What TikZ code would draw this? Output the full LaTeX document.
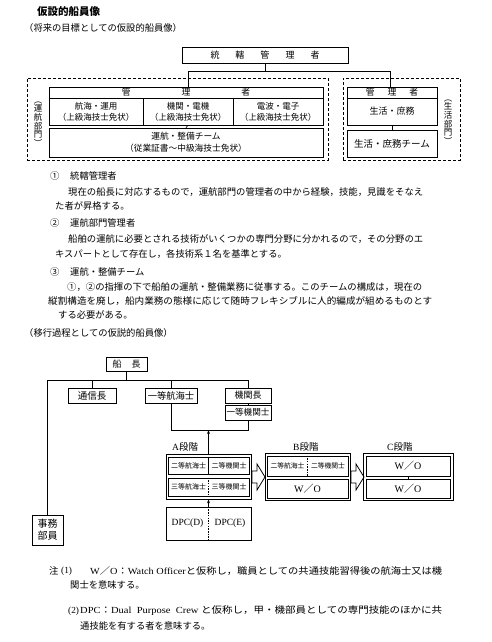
\documentclass[tikz,border=0pt]{standalone}
\usepackage{fontspec}
\usepackage{graphicx}
\setmainfont{Noto Sans CJK JP}
\newfontfamily\LSf{Liberation Serif}
\newcommand\LS[1]{{\LSf #1}}
\newcommand\fs[2]{\fontsize{#1}{#2}\selectfont}
\newcommand\gp[1]{\hspace{#1pt}}
\newcommand\fitw[2]{\resizebox{#1pt}{\height}{#2}}
\usetikzlibrary{arrows.meta}
\begin{document}
\begin{tikzpicture}[x=1pt,y=-1pt,
  bx/.style={draw, line width=0.6pt, inner sep=0pt},
  tbx/.style={draw, line width=0.9pt, inner sep=0pt},
  tx/.style={inner sep=0pt, anchor=west},
  ct/.style={inner sep=0pt},
  dbox/.style={draw, dash pattern=on 3pt off 2pt, line width=0.7pt, inner sep=0pt},
  ln/.style={line width=0.7pt},
  dv/.style={line width=0.6pt, dash pattern=on 1.5pt off 1.2pt},
  vl/.style={inner sep=0pt, align=center, font=\fs{8.5}{8.6}},
  hol/.style={draw, line width=0.8pt, fill=white, line join=miter},
  arr/.style={line width=0.7pt, -{Stealth[length=4pt,width=3pt]}}]
\useasboundingbox (0,0) rectangle (491,642);
\fill[white] (0,0) rectangle (491,642);

% ---------- titles ----------
\node[tx, font=\fs{10.5}{11}\bfseries] (title) at (37,12) {仮設的船員像};
\node[tx, font=\fs{9.3}{10}] (sub1) at (24,28) {（将来の目標としての仮設的船員像）};

% ---------- upper chart ----------
\node[bx, minimum width=166, minimum height=16, font=\fs{9}{10}] (top) at (265,55.5) {統\gp{16}轄\gp{16}管\gp{16}理\gp{16}者};

\node[dbox, minimum width=301, minimum height=82] (unL) at (177.5,119) {};
\node[dbox, minimum width=117, minimum height=82] (unR) at (401.5,119) {};

\node[tbx, minimum width=274, minimum height=11, font=\fs{8.8}{9}] (mgrL) at (186,92.5) {管\gp{51}理\gp{51}者};
\node[tbx, minimum width=94, minimum height=27, align=center, font=\fs{8.5}{11}] (nav) at (96,111.5) {航海・運用\\（上級海技士免状）};
\node[tbx, minimum width=90, minimum height=27, align=center, font=\fs{8.5}{11}] (eng) at (188,111.5) {機関・電機\\（上級海技士免状）};
\node[tbx, minimum width=90, minimum height=27, align=center, font=\fs{8.5}{11}] (rad) at (278,111.5) {電波・電子\\（上級海技士免状）};
\node[tbx, minimum width=274, minimum height=29, align=center, font=\fs{8.7}{11.5}] (team) at (186,142.5) {運航・整備チーム\\（従業証書～中級海技士免状）};
\node[vl] (labL) at (38,124) {︵\\運\\航\\部\\門\\︶};

\node[tbx, minimum width=90, minimum height=11, font=\fs{8.8}{9}] (mgrR) at (392,92.5) {管\gp{13}理\gp{13}者};
\node[tbx, minimum width=90, minimum height=27, font=\fs{9}{10}] (life) at (392,111.5) {生活・庶務};
\node[tbx, minimum width=90, minimum height=27, font=\fs{9.5}{10}] (lteam) at (392,143.5) {生活・庶務チーム};
\node[vl] (labR) at (448,122) {︵\\生\\活\\部\\門\\︶};

\coordinate (jL) at (188,71);
\coordinate (jR) at (390,71);
\draw[ln] (top.south) -- (top.south |- jL);
\draw[ln] (jL) -- (jR);
\draw[ln] (jL) -- (jL |- mgrL.north);
\draw[ln] (jR) -- (jR |- mgrR.north);
\draw[ln] (eng.south) -- (team.north);
\draw[ln] (life.south) -- (lteam.north);

% ---------- explanatory text ----------
\begin{scope}[every node/.style={tx, font=\fs{9.3}{10}}]
\node (n1) at (50,176) {①};
\node (h1) at (70,176) {統轄管理者};
\node (t1a) at (68,192) {\fitw{355}{現在の船長に対応するもので，運航部門の管理者の中から経験，技能，見識をそなえ}};
\node (t1b) at (55,206) {た者が昇格する。};
\node (n2) at (50,223) {②};
\node (h2) at (70,223) {運航部門管理者};
\node (t2a) at (68,239) {\fitw{355}{船舶の運航に必要とされる技術がいくつかの専門分野に分かれるので，その分野のエ}};
\node (t2b) at (55,254) {キスパートとして存在し，各技術系１名を基準とする。};
\node (n3) at (50,272) {③};
\node (h3) at (70,272) {運航・整備チーム};
\node (t3a) at (67,287) {\fitw{355}{①，②の指揮の下で船舶の運航・整備業務に従事する。このチームの構成は，現在の}};
\node (t3b) at (48,301) {\fitw{384}{縦割構造を廃し，船内業務の態様に応じて随時フレキシブルに人的編成が組めるものとす}};
\node (t3c) at (58,315) {する必要がある。};
\node (sub2) at (24,333) {（移行過程としての仮説的船員像）};
\end{scope}

% ---------- lower chart ----------
\node[bx, minimum width=41, minimum height=14, font=\fs{9}{10}] (cap) at (126.5,364) {船\gp{10}長};
\coordinate (hL) at (47,380);
\coordinate (hR) at (248,380);
\draw[ln] (cap.south) -- (cap.south |- hL);
\draw[ln] (hL) -- (hR);

\node[bx, minimum width=48, minimum height=15, font=\fs{9.5}{10}] (tsu) at (92,395.5) {通信長};
\node[bx, minimum width=52, minimum height=15, font=\fs{9.3}{10}] (itk) at (171,395.5) {一等航海士};
\node[bx, minimum width=46, minimum height=15, font=\fs{9}{10}] (kc) at (248,395.5) {機関長};
\node[bx, minimum width=46, minimum height=15, font=\fs{8.6}{10}] (ikk) at (248,412.5) {一等機関士};
\node[bx, minimum width=31, minimum height=30, align=center, font=\fs{10}{12}] (jimu) at (47.5,530) {事務\\部員};

\draw[ln] (hL) -- (hL |- jimu.north);
\draw[ln] (tsu.north |- hL) -- (tsu.north);
\draw[ln] (itk.north |- hL) -- (itk.north);
\draw[ln] (hR) -- (kc.north);
\draw[ln] (kc.south) -- (ikk.north);
\coordinate (bL) at (171,430);
\coordinate (bR) at (248,430);
\draw[ln] (itk.south) -- (bL) -- (bR) -- (ikk.south);

% stage A
\node[tx, font=\fs{9.5}{10}] (la) at (172,447) {\LS{A}段階};
\node[bx, minimum width=85, minimum height=45] (A) at (208.5,476.5) {};
\node[tbx, minimum width=81, minimum height=17] (a1) at (208.5,465.5) {};
\node[tbx, minimum width=81, minimum height=18] (a2) at (208.5,487) {};
\draw[line width=0.6pt] (a1.north) -- (a1.south);
\draw[dv] (a2.north) -- (a2.south);
\node[ct, font=\fs{7}{7}] (a1l) at (188.5,465.5) {二等航海士};
\node[ct, font=\fs{7}{7}] (a1r) at (229,465.5) {二等機関士};
\node[ct, font=\fs{7}{7}] (a2l) at (188.5,487) {三等航海士};
\node[ct, font=\fs{7}{7}] (a2r) at (229,487) {三等機関士};

\node[bx, minimum width=85, minimum height=33] (dpc) at (208.5,523.5) {};
\draw[dv] (dpc.north) -- (dpc.south);
\node[ct, font=\LSf\fs{9.5}{10}] (dpcd) at (187.5,523.5) {DPC(D)};
\node[ct, font=\LSf\fs{9.5}{10}] (dpce) at (230,523.5) {DPC(E)};

\draw[arr] (dpc.north) -- (A.south);
\draw[arr] (A.north) -- (A.north |- bL);

% arrow A -> B
\draw[hol] (252,471) -- (257,471) -- (257,464) -- (265,477) -- (257,490) -- (257,483) -- (252,483) -- cycle;

% stage B
\node[tx, font=\fs{9.5}{10}] (lb) at (293,447) {\LS{B}段階};
\node[bx, minimum width=85, minimum height=47] (B) at (307.5,476.5) {};
\node[tbx, minimum width=81, minimum height=20] (b1) at (307.5,466) {};
\node[tbx, minimum width=81, minimum height=19, font=\fs{10}{10}] (b2) at (307.5,488.5) {\LS{W}／\LS{O}};
\draw[dv] (b1.north) -- (b1.south);
\node[ct, font=\fs{6.8}{7}] (b1l) at (287.5,466) {二等航海士};
\node[ct, font=\fs{6.8}{7}] (b1r) at (328,466) {二等機関士};

% arrow B -> C
\draw[hol] (351,471) -- (356,471) -- (356,464) -- (364,477) -- (356,490) -- (356,483) -- (351,483) -- cycle;

% stage C
\node[tx, font=\fs{9.5}{10}] (lc) at (387,447) {\LS{C}段階};
\node[bx, minimum width=90, minimum height=47] (C) at (408,476.5) {};
\node[tbx, minimum width=84, minimum height=20, font=\fs{10}{10}] (c1) at (408,466) {\LS{W}／\LS{O}};
\node[tbx, minimum width=84, minimum height=19, font=\fs{10}{10}] (c2) at (408,488.5) {\LS{W}／\LS{O}};
\draw[line width=1pt] (c1.south) -- (c2.north);

% ---------- notes ----------
\begin{scope}[every node/.style={tx, font=\fs{9.3}{10}}]
\node (nt) at (49,571) {注};
\node (nt1) at (61,571) {\LS{(1)}};
\node (nt1a) at (90,571) {\fitw{352}{\LS{W}／\LS{O}：\LS{Watch Officer}と仮称し，職員としての共通技能習得後の航海士又は機}};
\node (nt1b) at (70,585) {関士を意味する。};
\node (nt2) at (68,611) {\LS{(2)}};
\node (nt2a) at (80,611) {\fitw{362}{\LS{DPC}：\LS{Dual\ \ Purpose\ \ Crew\ }と仮称し，甲・機部員としての専門技能のほかに共}};
\node (nt2b) at (80,626) {通技能を有する者を意味する。};
\end{scope}
\end{tikzpicture}
\end{document}
